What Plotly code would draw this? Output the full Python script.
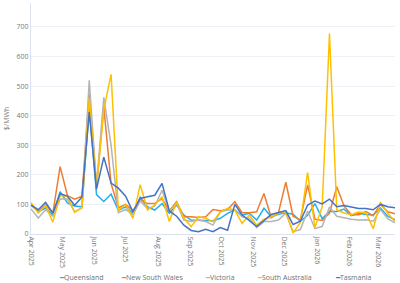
import pandas as pd
import plotly.graph_objects as go

weeks = pd.date_range("2025-04-01", periods=51, freq="7D")

queensland = [98, 75, 88, 65, 143, 105, 95, 92, 430, 133,
              110, 135, 80, 92, 70, 124, 92, 81, 103, 70,
              98, 64, 47, 47, 45, 45, 53, 70, 81, 64,
              70, 47, 87, 58, 67, 72, 67, 43, 63, 103,
              52, 76, 76, 84, 62, 70, 66, 64, 88, 60, 48]
new_south_wales = [102, 75, 99, 71, 228, 130, 118, 128, 472, 158,
                   430, 170, 89, 100, 79, 117, 103, 103, 120, 78,
                   109, 58, 58, 56, 58, 83, 79, 83, 109, 72,
                   72, 75, 137, 55, 73, 175, 60, 48, 166, 50,
                   46, 71, 160, 95, 65, 65, 76, 62, 100, 75, 68]
victoria = [85, 54, 82, 60, 118, 118, 75, 88, 520, 165,
            462, 300, 72, 83, 65, 112, 86, 94, 148, 78,
            103, 47, 42, 47, 42, 30, 75, 81, 81, 58,
            53, 22, 42, 42, 47, 70, 8, 15, 78, 18,
            26, 91, 60, 54, 50, 47, 48, 43, 83, 52, 38]
south_australia = [106, 71, 97, 40, 130, 128, 73, 90, 460, 160,
                   420, 540, 80, 100, 53, 167, 81, 98, 126, 42,
                   109, 53, 25, 58, 53, 42, 75, 87, 81, 36,
                   64, 30, 50, 58, 70, 75, 3, 39, 208, 22,
                   92, 678, 82, 71, 65, 74, 72, 18, 108, 70, 42]
tasmania = [98, 82, 107, 71, 136, 128, 97, 125, 412, 152,
            260, 172, 155, 128, 75, 120, 126, 131, 171, 78,
            60, 30, 12, 8, 16, 8, 22, 13, 100, 64,
            45, 25, 45, 66, 73, 79, 32, 43, 98, 111,
            102, 118, 92, 96, 91, 86, 86, 82, 100, 92, 89]

y_ticks = [0, 100, 200, 300, 400, 500, 600, 700]

series = [
    ("Queensland", queensland, "#22AEEF"),
    ("New South Wales", new_south_wales, "#ED7D31"),
    ("Victoria", victoria, "#B4B4B4"),
    ("South Australia", south_australia, "#FFC000"),
    ("Tasmania", tasmania, "#4472C4"),
]

FONT = "Open Sans, Noto Sans, sans-serif"
W, H = 400, 283
ML, MR, MT, MB = 31, 5, 3, 49

fig = go.Figure()
for name, vals, col in series:
    fig.add_trace(go.Scatter(x=weeks, y=vals, name=name, mode="lines",
                             line=dict(color=col, width=1.5)))

# custom legend with short line glyphs (pixel centres converted to paper coords)
legend_centers_px = [81, 152, 220, 284, 353]
legend_y_px = 277
anns = []
for (name, vals, col), cx in zip(series, legend_centers_px):
    anns.append(dict(
        x=(cx - ML) / (W - ML - MR),
        y=(H - MB - legend_y_px) / (H - MB - MT),
        xref="paper", yref="paper",
        xanchor="center", yanchor="middle", showarrow=False,
        text=f'<span style="color:{col}">━</span><span style="color:#707070">{name}</span>',
        font=dict(size=7, family=FONT)))

fig.update_layout(
    width=W, height=H,
    margin=dict(l=ML, r=MR, t=MT, b=MB),
    paper_bgcolor="white", plot_bgcolor="white",
    showlegend=False,
    font=dict(family=FONT, size=7, color="#777777"),
    annotations=anns,
    xaxis=dict(
        range=[weeks[0], weeks[-1]],
        tick0="2025-04-01", dtick="M1", tickformat="%b %Y",
        tickangle=90, tickfont=dict(size=7, color="#7a7a7a"),
        showgrid=False, showline=True, linecolor="#DCE2F0", linewidth=1,
        zeroline=False, ticks="",
    ),
    yaxis=dict(
        range=[0, 781], tickvals=y_ticks,
        showgrid=True, gridcolor="#EEF1F8", gridwidth=1,
        showline=True, linecolor="#DCE2F0", linewidth=1,
        zeroline=False, ticks="",
        tickfont=dict(size=7, color="#7a7a7a"),
        title=dict(text="$/MWh", font=dict(size=7, color="#7a7a7a"), standoff=6),
    ),
)

fig.write_html("out.html")
